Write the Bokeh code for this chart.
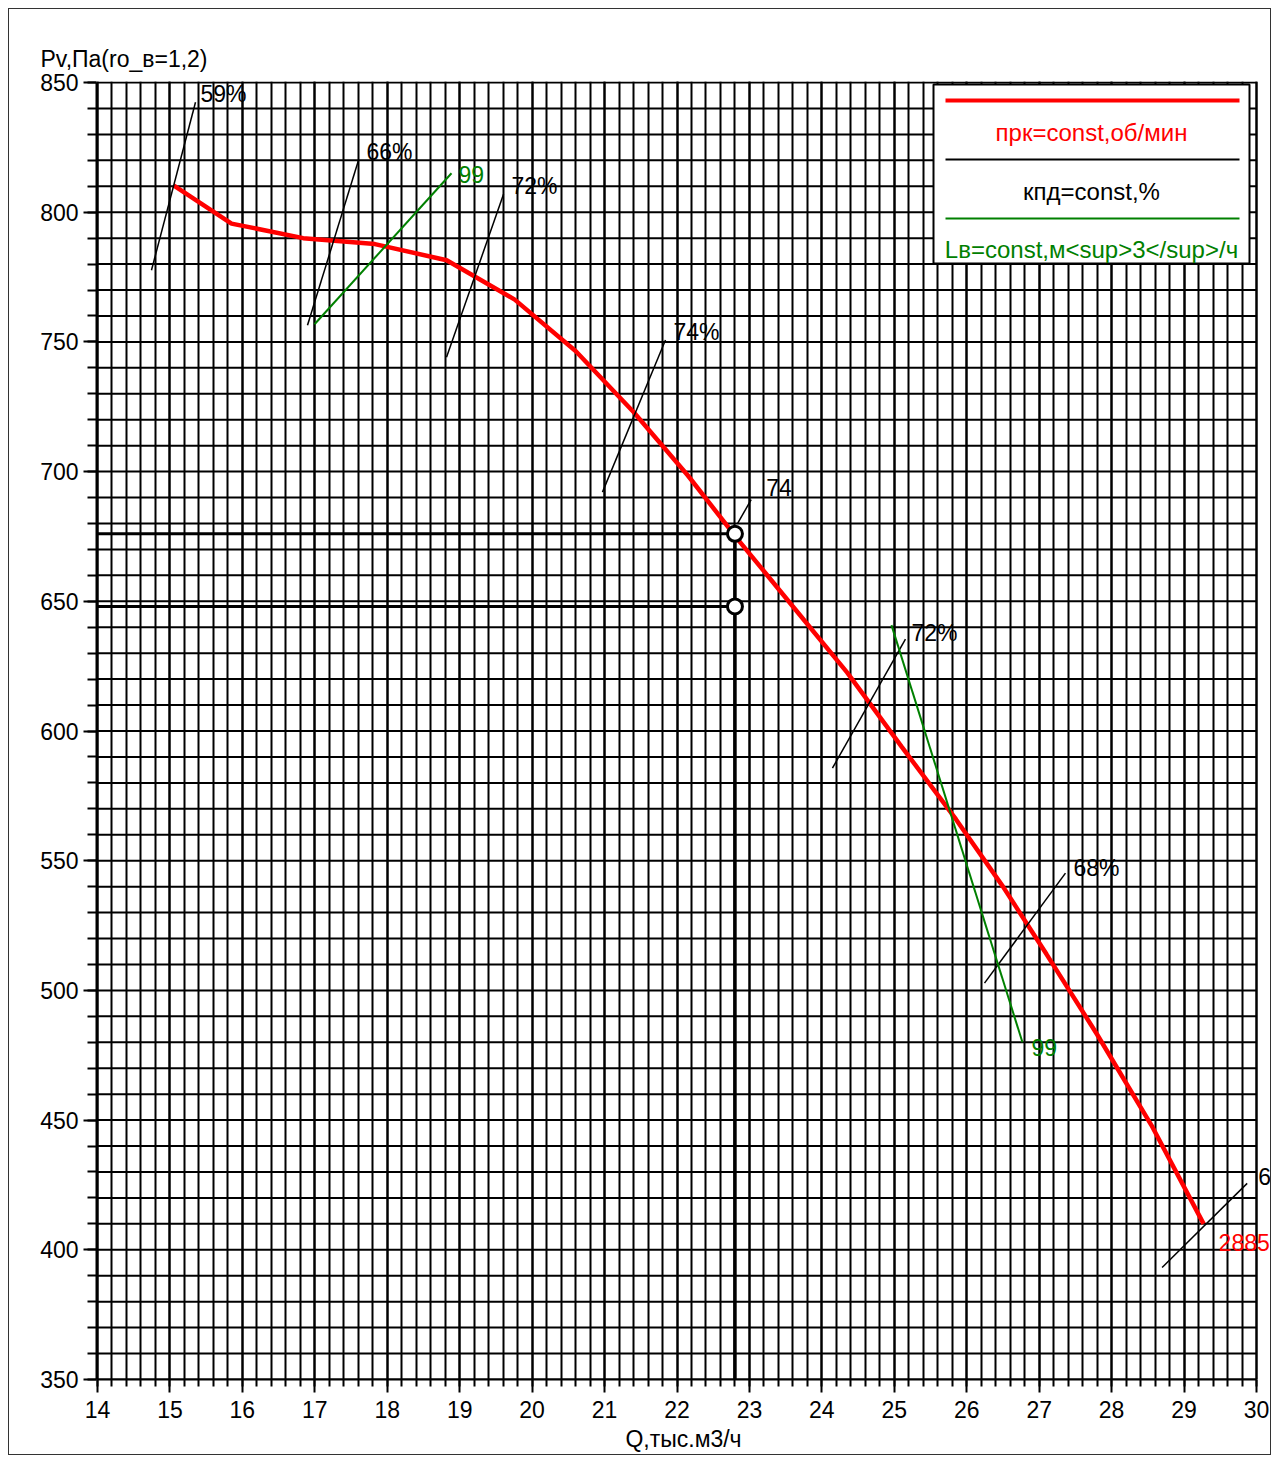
import numpy as np
from bokeh.plotting import figure
from bokeh.models import Range1d, SingleIntervalTicker, Label, LabelSet, ColumnDataSource
from bokeh.core.properties import value
from bokeh.embed import file_html
from bokeh.resources import INLINE

FONT = "Liberation Sans"
FS = "23px"
FS_LEG = "24px"
RED = "#ff0000"
GREEN = "#008000"

# ---------------- data ----------------
q_range = (14, 30)
p_range = (350, 850)
q_major, q_minor_n = 1, 5
p_major, p_minor_n = 50, 5
p_grid_step = 10

# fan curve n = const (2885 rpm)
fan_q = [15.05, 15.85, 16.84, 17.83, 18.82, 19.76, 20.60, 21.40, 22.15, 22.85,
         23.60, 24.35, 25.10, 25.85, 26.50, 27.10, 27.80, 28.55, 29.27]
fan_p = [810.3, 795.6, 790.0, 787.7, 781.5, 766.3, 746.5, 723.0, 698.5, 673.5,
         648.0, 622.5, 594.0, 566.0, 540.0, 514.0, 483.0, 448.0, 410.0]
fan_label = "2885"

# efficiency = const lines
eff_label = ["59%", "66%", "72%", "74%", "74", "72%", "68%", "6"]
eff_q0 = [14.745, 16.899, 18.818, 20.971, 22.835, 24.146, 26.245, 28.697]
eff_p0 = [777.6, 756.4, 744.1, 692.1, 679.9, 585.7, 502.8, 393.2]
eff_q1 = [15.353, 17.603, 19.605, 21.841, 23.024, 25.154, 27.363, 29.871]
eff_p1 = [842.4, 820.0, 806.9, 750.7, 689.2, 635.4, 545.2, 425.6]

# flow = const lines
flow_label = ["99", "99"]
flow_q0 = [16.996, 24.961]
flow_p0 = [756.8, 640.8]
flow_q1 = [18.887, 26.769]
flow_p1 = [815.0, 480.0]

# operating point
op_q = 22.8
op_p = [676.0, 648.0]

legend_texts = ["прк=const,об/мин", "кпд=const,%", "Lв=const,м<sup>3</sup>/ч"]

# ---------------- layout ----------------
PXU = 1159 / (q_range[1] - q_range[0])   # px per unit Q
PYU = 1297 / (p_range[1] - p_range[0])   # px per unit P
FRAME_W = 1174
FRAME_H = 1298
x_start = q_range[0] - 1 / PXU
x_end = x_start + FRAME_W / PXU
y_end = p_range[1] + 1 / PYU
y_start = y_end - FRAME_H / PYU

p = figure(frame_width=FRAME_W, frame_height=FRAME_H,
           x_range=Range1d(x_start, x_end), y_range=Range1d(y_start, y_end),
           output_backend="svg", toolbar_location=None,
           min_border_left=87, min_border_top=72, min_border_right=0, min_border_bottom=75,
           background_fill_color="white", border_fill_color="white",
           title="Pv,Па(ro_в=1,2)")
p.margin = (8, 0, 0, 8)
p.styles = {"border": "1px solid #333333"}
p.outline_line_color = None

p.title.align = "left"
p.title.offset = -56
p.title.text_font = FONT
p.title.text_font_size = FS
p.title.text_font_style = "normal"
p.title.text_color = "black"
p.title.standoff = 20

p.xaxis.ticker = SingleIntervalTicker(interval=q_major, num_minor_ticks=q_minor_n)
p.yaxis.ticker = SingleIntervalTicker(interval=p_major, num_minor_ticks=p_minor_n)
p.xaxis.bounds = q_range
p.yaxis.bounds = p_range

p.xgrid.grid_line_color = "black"
p.xgrid.grid_line_width = 2
p.xgrid.minor_grid_line_color = "black"
p.xgrid.minor_grid_line_width = 2
p.ygrid.grid_line_color = None

for ax in (p.xaxis, p.yaxis):
    ax.axis_line_color = "black"
    ax.axis_line_width = 2
    ax.major_tick_line_color = "black"
    ax.major_tick_line_width = 2
    ax.minor_tick_line_color = "black"
    ax.minor_tick_line_width = 2
    ax.major_tick_in = 0
    ax.minor_tick_in = 0
    ax.major_tick_out = 13
    ax.minor_tick_out = 7
    ax.major_label_text_font = FONT
    ax.major_label_text_font_size = FS
    ax.major_label_text_color = "black"
    ax.axis_label_text_font = FONT
    ax.axis_label_text_font_size = FS
    ax.axis_label_text_font_style = "normal"
    ax.axis_label_text_color = "black"

p.xaxis.axis_label = "Q,тыс.м3/ч"
p.xaxis.major_label_standoff = 8
p.xaxis.axis_label_standoff = 5
p.yaxis.minor_tick_out = 9

# horizontal grid lines, limited to the Q range
gy = np.arange(p_range[0], p_range[1] + 0.5 * p_grid_step, p_grid_step)
p.segment(x0=q_range[0], x1=q_range[1], y0=gy, y1=gy, line_color="black", line_width=2)

def X(px):
    return q_range[0] + (px - 97) / PXU

def Y(py):
    return p_range[1] - (py - 82) / PYU

# fan curve
p.line(fan_q, fan_p, line_color=RED, line_width=4.5)
p.add_layout(Label(x=fan_q[-1], y=fan_p[-1], text=fan_label, x_offset=15, y_offset=-10,
                   text_baseline="top", text_font=FONT, text_font_size=FS, text_color=RED))

# efficiency lines
eff_dx = [5, 8, 8, 8, 15, 6, 8, 11]
eff_dy = [0, 0, 0, 0, 4, -2, -3, -2]
p.segment(eff_q0, eff_p0, eff_q1, eff_p1, line_color="black", line_width=1.5)
eff_src = ColumnDataSource(dict(x=eff_q1, y=eff_p1, t=eff_label, dx=eff_dx, dy=eff_dy))
p.add_layout(LabelSet(x="x", y="y", text="t", source=eff_src, x_offset="dx", y_offset="dy",
                      text_baseline="alphabetic", text_font=value(FONT),
                      text_font_size=value(FS), text_color="black"))

# flow lines
p.segment(flow_q0, flow_p0, flow_q1, flow_p1, line_color=GREEN, line_width=2)
flow_baselines = ["alphabetic", "top"]
flow_dx = [7, 9]
flow_dy = [-1, 3]
for i in range(len(flow_label)):
    p.add_layout(Label(x=flow_q1[i], y=flow_p1[i], text=flow_label[i],
                       x_offset=flow_dx[i], y_offset=flow_dy[i],
                       text_baseline=flow_baselines[i], text_font=FONT,
                       text_font_size=FS, text_color=GREEN))

# operating point construction
for pv in op_p:
    p.line([q_range[0], op_q], [pv, pv], line_color="black", line_width=3)
p.line([op_q, op_q], [max(op_p), p_range[0]], line_color="black", line_width=3.5)
p.scatter([op_q] * len(op_p), op_p, size=15, marker="circle", fill_color="white",
          line_color="black", line_width=3)

# legend box
p.quad(left=X(933), right=X(1249), top=Y(84), bottom=Y(263),
       fill_color="white", line_color="black", line_width=2)
leg_colors = [RED, "black", GREEN]
leg_widths = [4, 2, 2]
leg_line_y = [100, 159, 218]
leg_text_y = [132, 191, 249]
for i in range(3):
    p.line([X(945), X(1239)], [Y(leg_line_y[i])] * 2, line_color=leg_colors[i],
           line_width=leg_widths[i])
    p.add_layout(Label(x=X(1091), y=Y(leg_text_y[i]), text=legend_texts[i],
                       text_align="center", text_baseline="middle", text_font=FONT,
                       text_font_size=FS_LEG, text_color=leg_colors[i]))

open("out.html", "w").write(file_html(p, INLINE))
